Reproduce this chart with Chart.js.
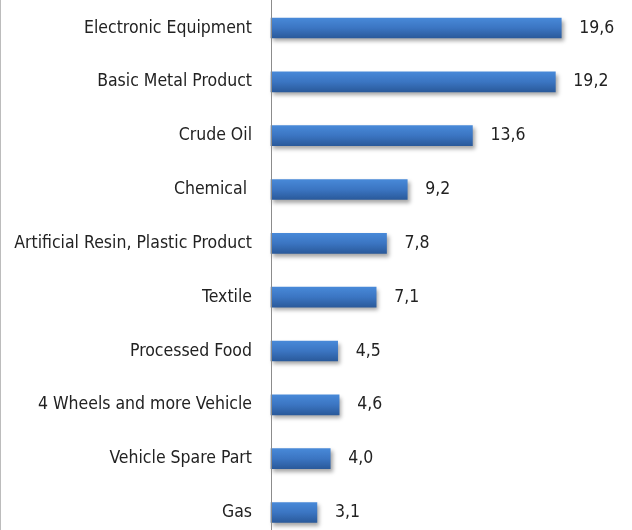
<!DOCTYPE html>
<html>
<head>
<meta charset="utf-8">
<script src="https://cdn.jsdelivr.net/npm/chart.js@4"></script>
<style>
  html, body { margin:0; padding:0; background:#fff; }
  #wrap { position:relative; width:632px; height:530px; overflow:hidden; box-sizing:border-box; border-left:1px solid #bcbcbc; }
</style>
</head>
<body>
<div id="wrap"><canvas id="chart" width="631" height="534"></canvas></div>
<script>
// ===== DATA =====
const sectors = [
  'Electronic Equipment',
  'Basic Metal Product',
  'Crude Oil',
  'Chemical ',
  'Artificial Resin, Plastic Product',
  'Textile',
  'Processed Food',
  '4 Wheels and more Vehicle',
  'Vehicle Spare Part',
  'Gas'
];
const shares = [19.6, 19.2, 13.6, 9.2, 7.8, 7.1, 4.5, 4.6, 4.0, 3.1];

const FONT = '"Liberation Sans Narrow", "DejaVu Sans Condensed", "Liberation Sans", sans-serif';

// ===== PLUGINS =====
// full-height axis line
const axisLine = {
  id:'axisLine',
  afterDraw(chart){
    const {ctx, chartArea} = chart;
    ctx.save();
    ctx.strokeStyle = '#8c8c8c';
    ctx.lineWidth = 1;
    ctx.beginPath();
    ctx.moveTo(Math.round(chartArea.left)+0.5, 0);
    ctx.lineTo(Math.round(chartArea.left)+0.5, chart.height);
    ctx.stroke();
    ctx.restore();
  }
};

// shadow under bars
const barShadow = {
  id:'barShadow',
  beforeDatasetsDraw(chart){
    const ctx = chart.ctx;
    ctx.save();
    ctx.shadowColor = 'rgba(0,0,0,0.35)';
    ctx.shadowBlur = 4;
    ctx.shadowOffsetX = 2;
    ctx.shadowOffsetY = 3;
  },
  afterDatasetsDraw(chart){
    chart.ctx.restore();
  }
};

// value labels right of bars
const valueLabels = {
  id:'valueLabels',
  afterDatasetsDraw(chart){
    const ctx = chart.ctx;
    const meta = chart.getDatasetMeta(0);
    ctx.save();
    ctx.font = '17.5px ' + FONT;
    ctx.fillStyle = '#222';
    ctx.textBaseline = 'middle';
    ctx.textAlign = 'left';
    meta.data.forEach((bar,i)=>{
      ctx.fillText(shares[i].toFixed(1).replace('.', ','), bar.x + 18, bar.y);
    });
    ctx.restore();
  }
};

// ===== CHART =====
new Chart(document.getElementById('chart'), {
  type:'bar',
  data:{
    labels: sectors,
    datasets:[{
      data: shares,
      barThickness: 20,
      clip: false,
      backgroundColor:(c)=>{
        const chart = c.chart;
        if(!chart.chartArea || !chart.scales.y || c.dataIndex === undefined) return '#3a72bd';
        const y = chart.scales.y.getPixelForValue(c.dataIndex);
        if(!isFinite(y)) return '#3a72bd';
        const g = chart.ctx.createLinearGradient(0, y - 10, 0, y + 10);
        g.addColorStop(0, '#4889d8');
        g.addColorStop(0.5, '#3b75c2');
        g.addColorStop(1, '#2a5a9b');
        return g;
      }
    }]
  },
  options:{
    indexAxis:'y',
    responsive:false,
    animation:false,
    layout:{ padding:{ top:28, bottom:1, right:10, left:0 } },
    plugins:{ legend:{ display:false }, tooltip:{ enabled:false } },
    scales:{
      x:{
        display:false,
        min:0,
        max:23.7
      },
      y:{
        offset:false,
        grid:{ display:false },
        border:{ display:false },
        ticks:{
          color:'#222',
          padding:11,
          font:{ family:FONT, size:17.5 }
        },
        afterFit(scale){ scale.width = 270; }
      }
    }
  },
  plugins:[barShadow, valueLabels, axisLine]
});
</script>
</body>
</html>
